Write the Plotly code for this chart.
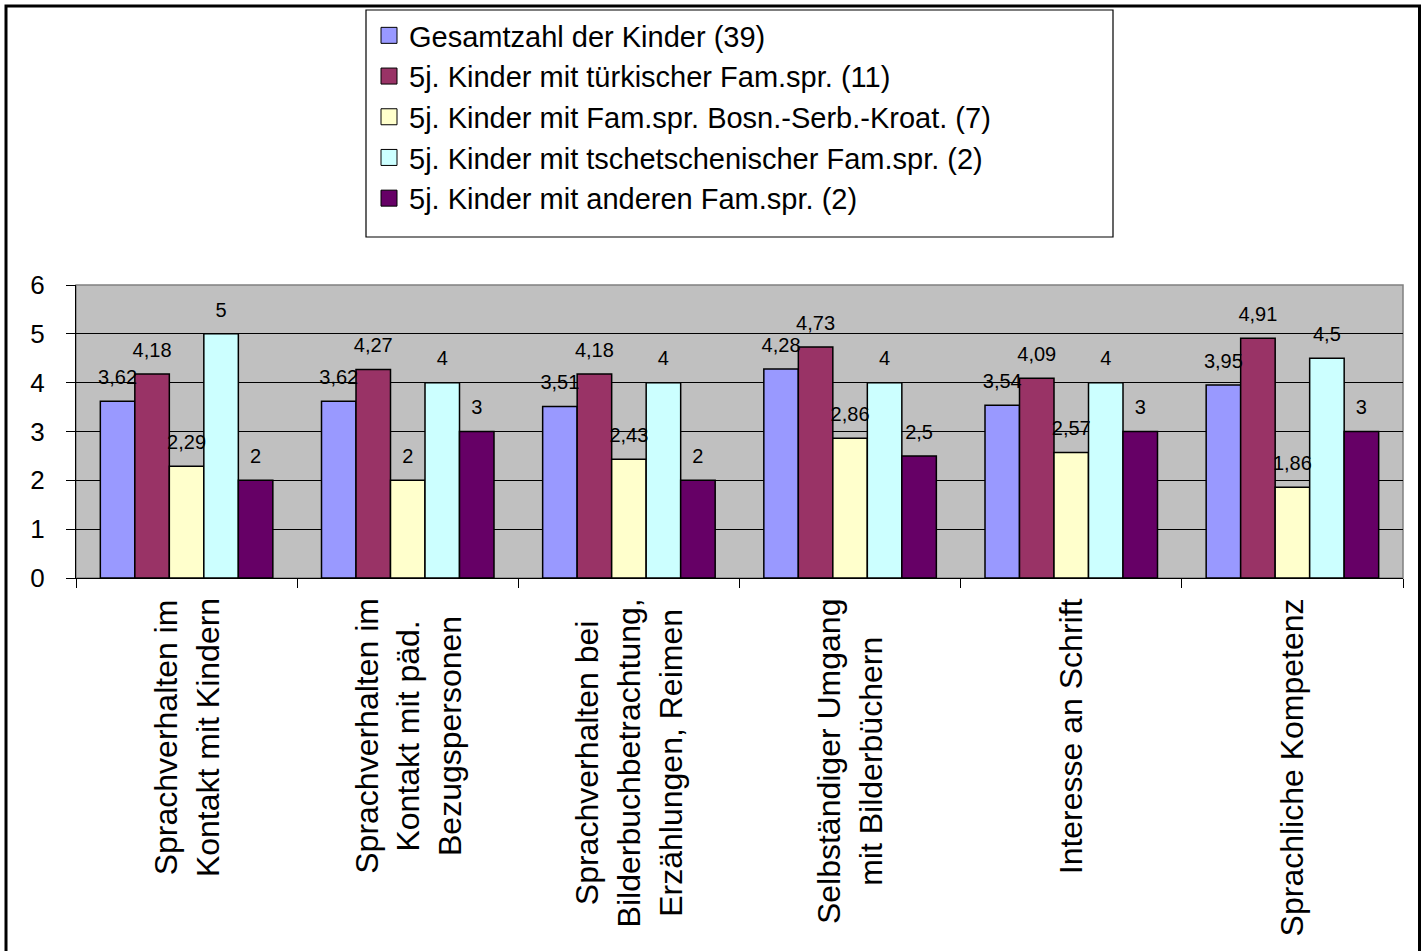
import plotly.graph_objects as go

# ---------------- data ----------------
categories = [
    "Sprachverhalten im<br>Kontakt mit Kindern",
    "Sprachverhalten im<br>Kontakt mit päd.<br>Bezugspersonen",
    "Sprachverhalten bei<br>Bilderbuchbetrachtung,<br>Erzählungen, Reimen",
    "Selbständiger Umgang<br>mit Bilderbüchern",
    "Interesse an Schrift",
    "Sprachliche Kompetenz",
]
series_names = [
    "Gesamtzahl der Kinder (39)",
    "5j. Kinder mit türkischer Fam.spr. (11)",
    "5j. Kinder mit Fam.spr. Bosn.-Serb.-Kroat. (7)",
    "5j. Kinder mit tschetschenischer Fam.spr. (2)",
    "5j. Kinder mit anderen Fam.spr. (2)",
]
gesamt = [3.62, 3.62, 3.51, 4.28, 3.54, 3.95]
tuerkisch = [4.18, 4.27, 4.18, 4.73, 4.09, 4.91]
bosn_serb_kroat = [2.29, 2, 2.43, 2.86, 2.57, 1.86]
tschetschenisch = [5, 4, 4, 4, 4, 4.5]
andere = [2, 3, 2, 2.5, 3, 3]
series_values = [gesamt, tuerkisch, bosn_serb_kroat, tschetschenisch, andere]
y_ticks = [0, 1, 2, 3, 4, 5, 6]

# ---------------- style ----------------
colors = ["#9999FF", "#993366", "#FFFFCC", "#CCFFFF", "#660066"]
FONT = "Liberation Sans, Arial, sans-serif"
W, H = 1426, 951
L, R, T, B = 76, 23, 285, 373
PW, PH = W - L - R, H - T - B


def px_x(x):
    return (x - L) / PW


def px_y(y):
    return (H - B - y) / PH


def fmt(v):
    return f"{v:g}".replace(".", ",")


fig = go.Figure()
for i, (name, vals) in enumerate(zip(series_names, series_values)):
    fig.add_trace(go.Bar(
        x=categories, y=vals, name=name,
        offsetgroup=str(i), showlegend=False,
        marker=dict(color=colors[i], line=dict(color="black", width=1.5)),
        hoverinfo="skip",
    ))
for i, vals in enumerate(series_values):
    fig.add_trace(go.Scatter(
        x=categories, y=vals, mode="markers+text",
        text=[fmt(v) for v in vals], textposition="top center",
        textfont=dict(family=FONT, size=20, color="black"),
        marker=dict(size=18, opacity=0),
        offsetgroup=str(i), showlegend=False, cliponaxis=False,
        hoverinfo="skip",
    ))
# legend entries (square swatches) on a hidden overlay axis
for i, name in enumerate(series_names):
    fig.add_trace(go.Scatter(
        x=[None], y=[None], mode="markers", name=name,
        xaxis="x2", yaxis="y2", legendgroup=str(i),
        marker=dict(symbol="square", size=16, color=colors[i],
                    line=dict(color="black", width=1)),
    ))

# category labels as rotated, centred multi-line annotations
for c in categories:
    fig.add_annotation(
        x=c, xref="x", y=0, yref="paper", yshift=-18,
        text=c, textangle=-90, align="center",
        xanchor="center", yanchor="top", showarrow=False,
        font=dict(family=FONT, size=32, color="black"),
    )

shapes = [
    # plot area border (gray)
    dict(type="rect", xref="paper", yref="paper", x0=0, x1=1, y0=0, y1=1,
         line=dict(color="#808080", width=1.5), layer="below"),
    # legend frame
    dict(type="rect", xref="paper", yref="paper",
         x0=px_x(366), x1=px_x(1113), y0=px_y(237), y1=px_y(10),
         line=dict(color="black", width=1.2), fillcolor="white", layer="below"),
    # outer chart frame (bottom edge lies outside the picture)
    dict(type="rect", xref="paper", yref="paper",
         x0=px_x(6), x1=px_x(1419.5), y0=px_y(970), y1=px_y(6),
         line=dict(color="black", width=3)),
]

fig.update_layout(
    width=W, height=H,
    margin=dict(l=L, r=R, t=T, b=B, autoexpand=False),
    paper_bgcolor="white", plot_bgcolor="#C0C0C0",
    barmode="group", bargap=0.22, bargroupgap=0,
    scattermode="group", scattergap=0.22,
    font=dict(family=FONT, color="black"),
    showlegend=True,
    legend=dict(
        x=px_x(369), y=px_y(10), xanchor="left", yanchor="top",
        bgcolor="rgba(0,0,0,0)", borderwidth=0, itemsizing="trace",
        font=dict(family=FONT, size=29, color="black"),
        tracegroupgap=0, traceorder="normal",
    ),
    shapes=shapes,
    xaxis=dict(
        type="category", showticklabels=False, tickson="boundaries",
        ticks="outside", ticklen=9, tickcolor="black", tickwidth=1,
        showline=True, linecolor="black", linewidth=1.2, showgrid=False,
    ),
    yaxis=dict(
        range=[0, 6], tickvals=y_ticks, ticks="outside", ticklen=9,
        tickcolor="black", tickwidth=1, showline=True, linecolor="black",
        linewidth=1.2, showgrid=True, gridcolor="black", gridwidth=1,
        zeroline=False, ticklabelstandoff=16,
        tickfont=dict(family=FONT, size=26, color="black"),
    ),
    xaxis2=dict(overlaying="x", visible=False),
    yaxis2=dict(overlaying="y", visible=False),
)

fig.write_html(
    "out.html",
    config={"displayModeBar": False},
    post_script="document.body.style.margin='0';document.body.style.overflow='hidden';",
)
